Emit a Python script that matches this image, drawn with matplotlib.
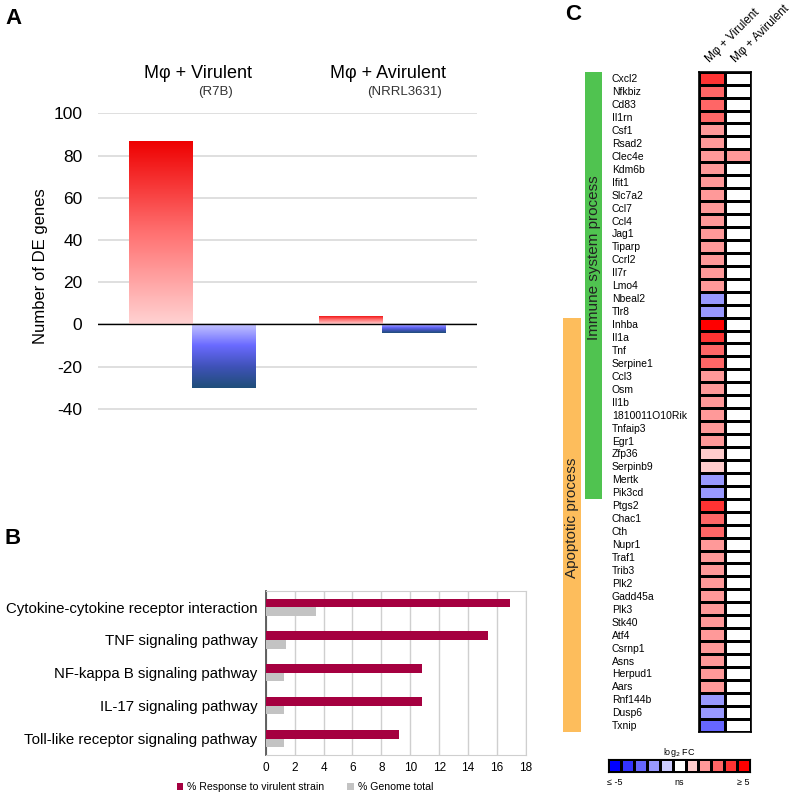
import numpy as np
import matplotlib
matplotlib.use("Agg")
import matplotlib.pyplot as plt
from matplotlib.colors import ListedColormap, BoundaryNorm, LinearSegmentedColormap
from matplotlib.patches import Rectangle

plt.rcParams['font.family'] = ['Liberation Sans', 'DejaVu Sans']
plt.rcParams['axes.unicode_minus'] = False

# ---- panel A data ----
groups = ["Mφ + Virulent", "Mφ + Avirulent"]
strains = ["(R7B)", "(NRRL3631)"]
up_genes = [87, 4]
down_genes = [-30, -4]

# ---- panel B data ----
pathways = ["Cytokine-cytokine receptor interaction", "TNF signaling pathway",
            "NF-kappa B signaling pathway", "IL-17 signaling pathway",
            "Toll-like receptor signaling pathway"]
pct_response = [16.9, 15.4, 10.8, 10.8, 9.2]
pct_genome = [3.45, 1.38, 1.27, 1.25, 1.27]

# ---- panel C data ----
genes = ["Cxcl2", "Nfkbiz", "Cd83", "Il1rn", "Csf1", "Rsad2", "Clec4e", "Kdm6b",
         "Ifit1", "Slc7a2", "Ccl7", "Ccl4", "Jag1", "Tiparp", "Ccrl2", "Il7r",
         "Lmo4", "Nbeal2", "Tlr8", "Inhba", "Il1a", "Tnf", "Serpine1", "Ccl3",
         "Osm", "Il1b", "1810011O10Rik", "Tnfaip3", "Egr1", "Zfp36", "Serpinb9",
         "Mertk", "Pik3cd", "Ptgs2", "Chac1", "Cth", "Nupr1", "Traf1", "Trib3",
         "Plk2", "Gadd45a", "Plk3", "Stk40", "Atf4", "Csrnp1", "Asns", "Herpud1",
         "Aars", "Rnf144b", "Dusp6", "Txnip"]
fc_virulent = [4, 3, 3, 3, 2, 2, 2, 2, 2, 2, 2, 2, 2, 2, 2, 2, 2, -2, -2,
               5, 4, 3, 3, 2, 2, 2, 2, 2, 2, 1, 1, -2, -2,
               4, 3, 3, 2, 2, 2, 2, 2, 2, 2, 2, 2, 2, 2, 2, -2, -2, -3]
fc_avirulent = [0] * len(genes)
fc_avirulent[genes.index("Clec4e")] = 2
immune_rows = (0, 33)      # Cxcl2 .. Pik3cd
apoptotic_rows = (19, 51)  # Inhba .. Txnip
conditions = ["Mφ + Virulent", "Mφ + Avirulent"]
fc_levels = ["≤ -5", "", "", "", "", "ns", "", "", "", "", "≥ 5"]
fc_colors = ["#0000ff", "#3333ff", "#6666ff", "#9999ff", "#ccccff", "#ffffff",
             "#ffcccc", "#ff9999", "#ff6666", "#ff3333", "#ff0000"]

W, H = 800, 794
fig = plt.figure(figsize=(W / 100, H / 100), dpi=100)


def px_axes(x0, y0, x1, y1):
    """axes from pixel box (top-left origin)"""
    return fig.add_axes([x0 / W, 1 - y1 / H, (x1 - x0) / W, (y1 - y0) / H])


def gradient_fill(ax, bar, cmap):
    x, y = bar.get_x(), bar.get_y()
    w, h = bar.get_width(), bar.get_height()
    grad = np.linspace(0, 1, 256).reshape(-1, 1)
    im = ax.imshow(grad, extent=[x, x + w, y, y + h], origin='lower',
                   aspect='auto', cmap=cmap, zorder=3)
    im.set_clip_path(bar)
    bar.set_facecolor('none')
    bar.set_edgecolor('none')


# ================= Panel A =================
axA = px_axes(97.7, 113.3, 476.7, 419.3)
xA = np.arange(len(groups))
bw = 1 / 3
ups = axA.bar(xA - bw / 2, up_genes, bw, zorder=3)
downs = axA.bar(xA + bw / 2, down_genes, bw, zorder=3)
red_cmap = LinearSegmentedColormap.from_list("r", ["#ffd2d2", "#ff7070", "#ee0000"])
blue_cmap = LinearSegmentedColormap.from_list("b", ["#c4c4ff", "#6a6aff", "#3f52b8", "#1f4e79"])
for b in ups:
    gradient_fill(axA, b, red_cmap)
for b in downs:
    gradient_fill(axA, b, blue_cmap)
axA.set_xlim(-0.5, 1.5)
axA.set_ylim(-45, 100)
axA.set_yticks(np.arange(-40, 101, 20))
axA.yaxis.grid(True, color="#d9d9d9", lw=1.2, zorder=0)
axA.axhline(0, color="black", lw=1, zorder=4)
axA.set_xticks([])
axA.tick_params(axis='y', length=0, labelsize=12.5, pad=11)
for s in axA.spines.values():
    s.set_visible(False)
axA.set_ylabel("Number of DE genes", fontsize=12, labelpad=4)
for i, (g, st) in enumerate(zip(groups, strains)):
    axA.text(i + 0.03, 1.13, g, transform=axA.get_xaxis_transform(),
             ha='center', va='center', fontsize=13)
    axA.text(i + 0.12, 1.07, st, transform=axA.get_xaxis_transform(),
             ha='center', va='center', fontsize=9.5, color="#333333")
fig.text(5 / W, 1 - 18 / H, "A", fontsize=16, fontweight='bold', va='center')

# ================= Panel B =================
axB = px_axes(265.7, 590.7, 526, 755)
yB = np.arange(len(pathways))
bh = 0.26
axB.barh(yB - bh / 2, pct_response, bh, color="#a50040", zorder=3,
         label="% Response to virulent strain")
axB.barh(yB + bh / 2, pct_genome, bh, color="#c3c3c3", zorder=3,
         label="% Genome total")
axB.set_ylim(len(pathways) - 0.5, -0.5)
axB.set_xlim(0, 18)
axB.set_xticks(np.arange(0, 19, 2))
axB.set_yticks(yB)
axB.set_yticklabels(pathways, fontsize=10.8)
axB.xaxis.grid(True, color="#cfcfcf", lw=1, zorder=0)
axB.tick_params(axis='y', length=0, pad=6)
axB.tick_params(axis='x', length=0, labelsize=8.5, pad=5)
for k in ("top", "right", "bottom"):
    axB.spines[k].set_color("#cfcfcf")
axB.spines["left"].set_color("#555555")
axB.spines["left"].set_linewidth(1.3)
fig.legend(loc='center', bbox_to_anchor=(305 / W, 1 - 787 / H), ncol=2,
           frameon=False, fontsize=7.6, handlelength=0.6, handleheight=0.6,
           columnspacing=2.2, handletextpad=0.4)
fig.text(5 / W, 1 - 538 / H, "B", fontsize=16, fontweight='bold', va='center')

# ================= Panel C =================
axC = px_axes(699.3, 71.7, 751.3, 731.7)
cmap = ListedColormap(fc_colors)
norm = BoundaryNorm(np.arange(-5.5, 6.5, 1), cmap.N)
mat = np.column_stack([fc_virulent, fc_avirulent])
axC.pcolormesh(np.arange(3), np.arange(len(genes) + 1), mat, cmap=cmap,
               norm=norm, edgecolors="black", linewidth=0.9)
axC.set_xlim(0, 2)
axC.set_ylim(len(genes), 0)
axC.set_xticks([])
axC.set_yticks(np.arange(len(genes)) + 0.5)
axC.set_yticklabels(genes, fontsize=7.5, ha='left')
axC.tick_params(axis='y', length=0, pad=63)
for s in axC.spines.values():
    s.set_linewidth(1.2)
for j, c in enumerate(conditions):
    axC.text(j + 0.5, -0.55, c, rotation=45, rotation_mode='anchor',
             ha='left', va='bottom', fontsize=8.5)

# category bars beside the gene list
col_w = 26.0
green_x0 = (585 - 699.3) / col_w
green_x1 = (602.3 - 699.3) / col_w
orange_x0 = (562.7 - 699.3) / col_w
orange_x1 = (580.7 - 699.3) / col_w
axC.add_patch(Rectangle((green_x0, immune_rows[0]), green_x1 - green_x0,
                        immune_rows[1] - immune_rows[0], color="#50c350",
                        clip_on=False, lw=0))
axC.add_patch(Rectangle((orange_x0, apoptotic_rows[0]), orange_x1 - orange_x0,
                        apoptotic_rows[1] - apoptotic_rows[0], color="#fdbd5c",
                        clip_on=False, lw=0))
axC.text((green_x0 + green_x1) / 2, 14.4, "Immune system process", rotation=90,
         ha='center', va='center', fontsize=11, color="#222222")
axC.text((orange_x0 + orange_x1) / 2, 34.45, "Apoptotic process", rotation=90,
         ha='center', va='center', fontsize=11, color="#222222")
fig.text(565 / W, 1 - 15 / H, "C", fontsize=16, fontweight='bold', va='center')

# colour key
axK = px_axes(608.3, 759, 750, 772.3)
axK.pcolormesh(np.arange(len(fc_colors) + 1), [0, 1],
               np.arange(-5, 6).reshape(1, -1), cmap=cmap, norm=norm,
               edgecolors="black", linewidth=0.8)
axK.set_xlim(0, len(fc_colors))
axK.set_ylim(0, 1)
axK.set_yticks([])
axK.set_xticks(np.arange(len(fc_colors)) + 0.5)
axK.set_xticklabels(fc_levels, fontsize=6.5)
axK.tick_params(axis='x', length=0, pad=4)
axK.set_title("log$_2$ FC", fontsize=6.5, pad=3)

fig.savefig("out.png", dpi=100)
